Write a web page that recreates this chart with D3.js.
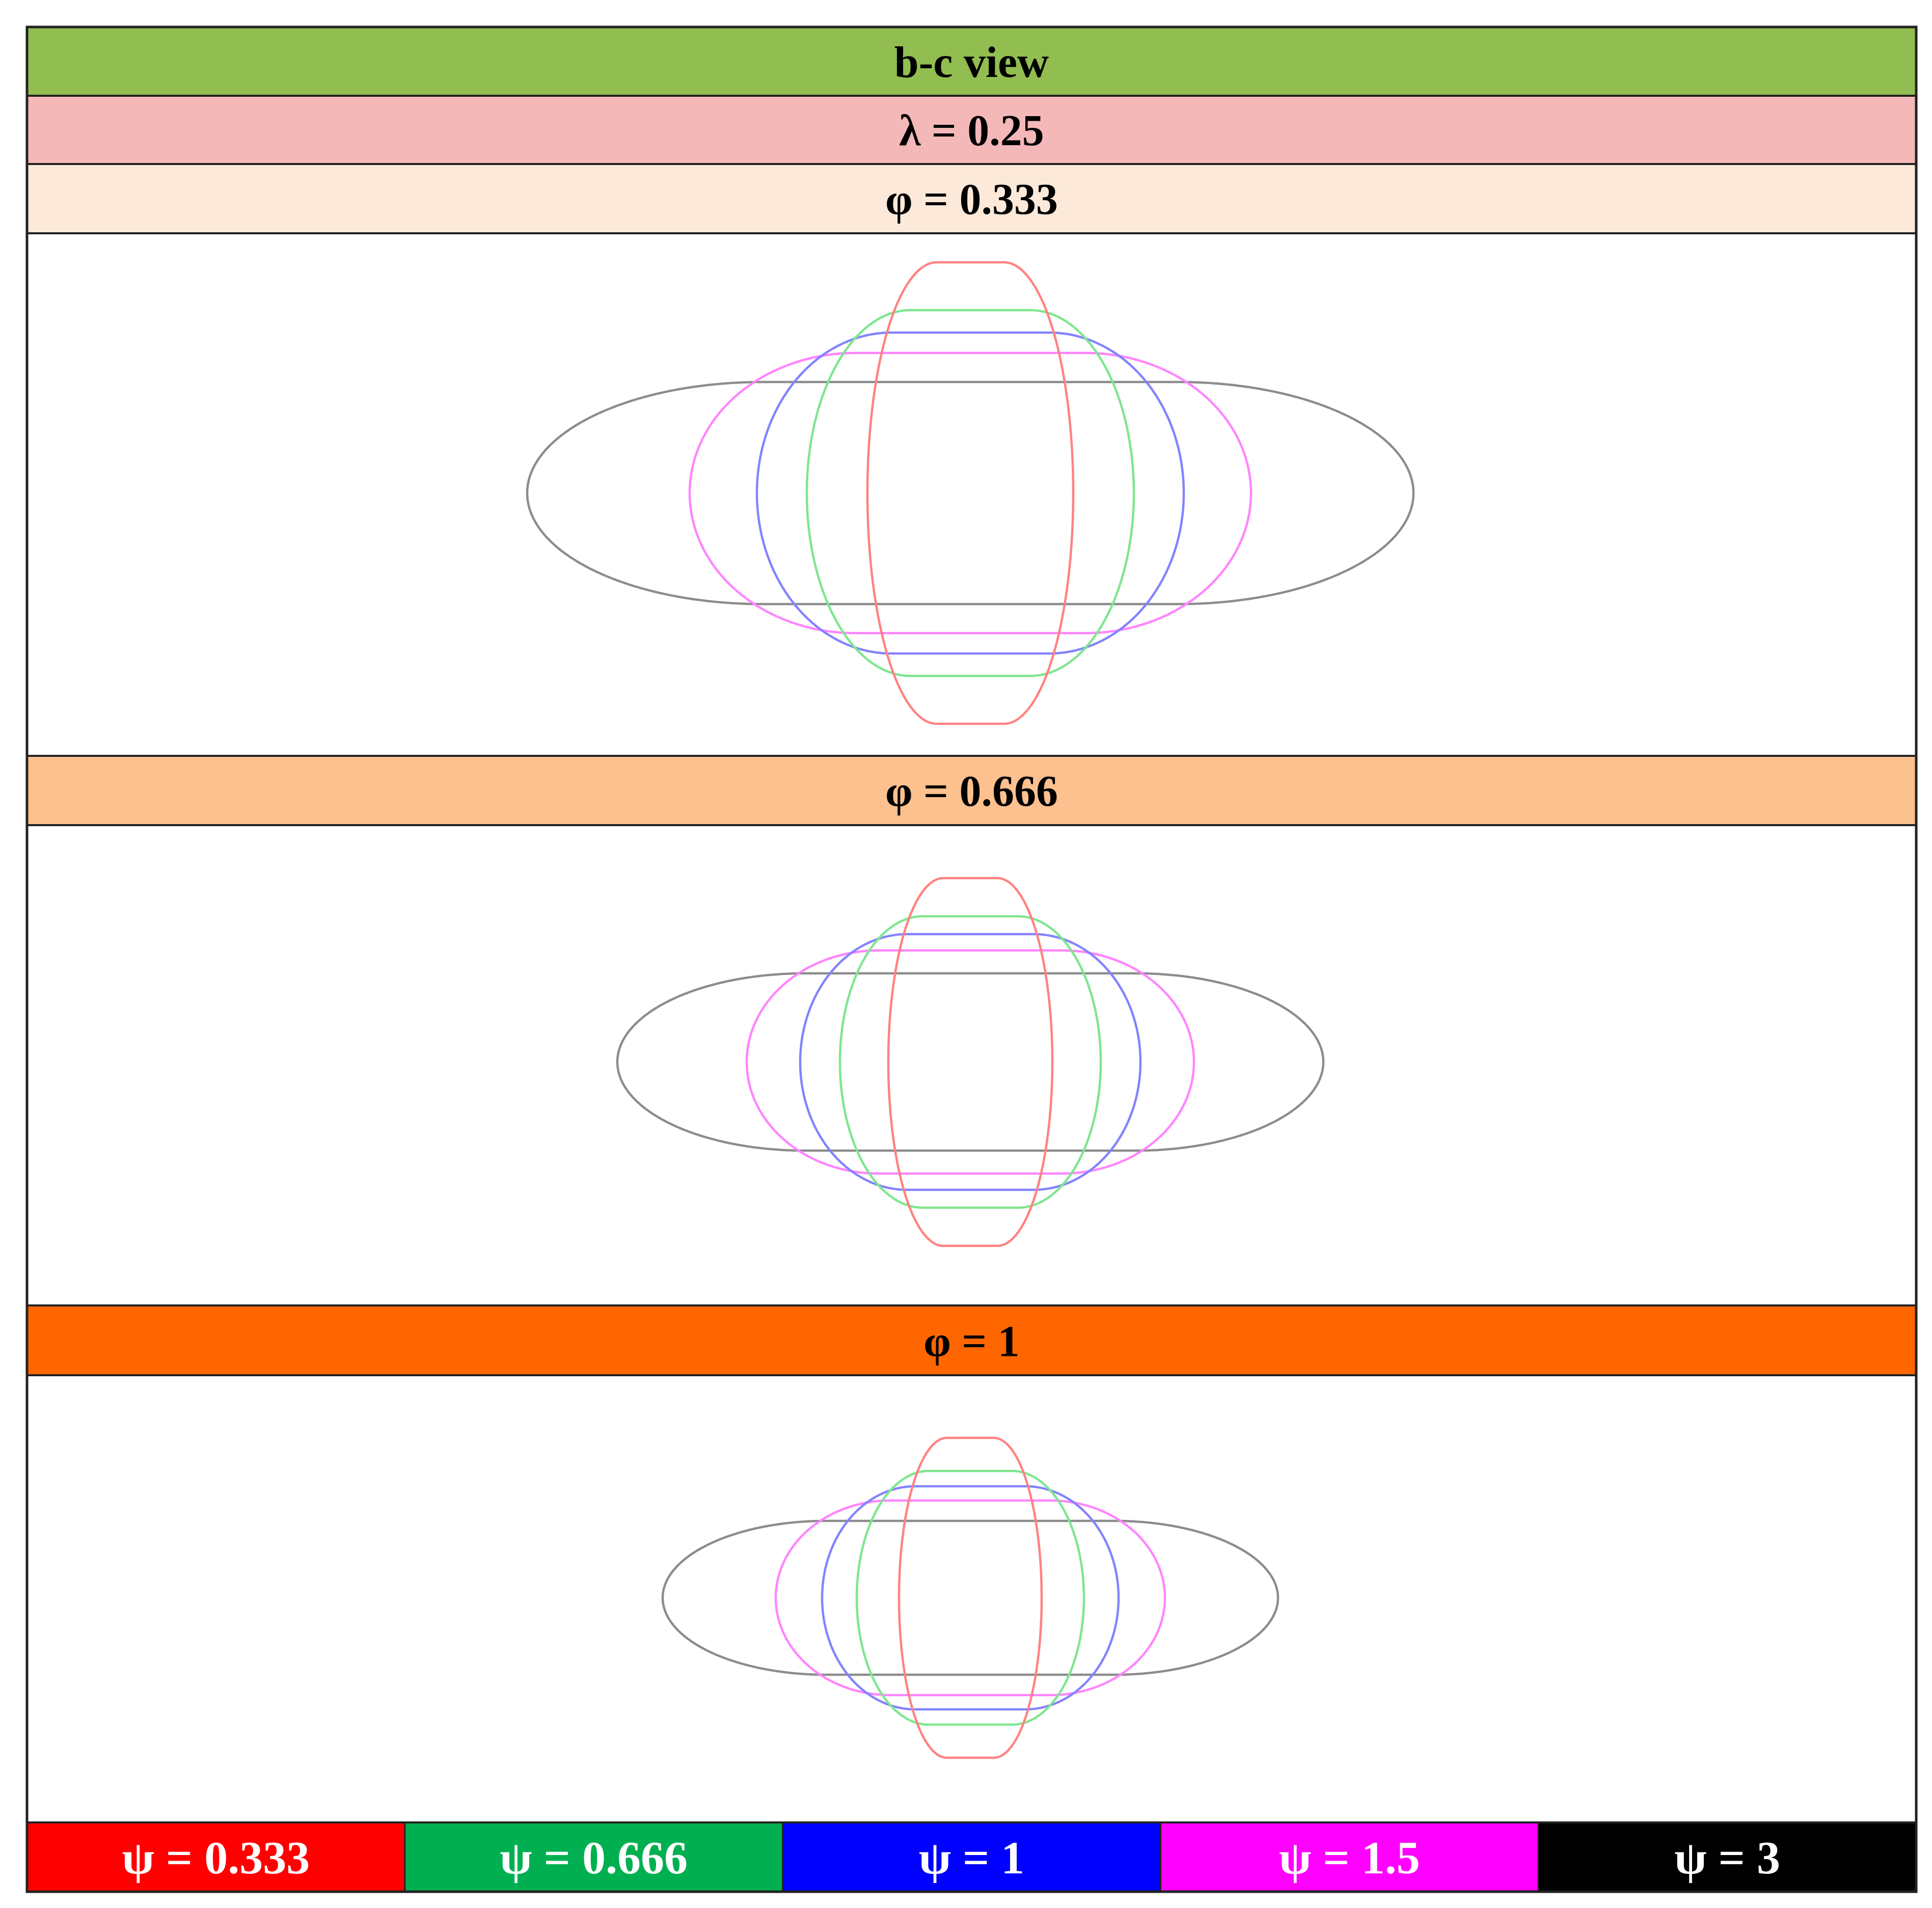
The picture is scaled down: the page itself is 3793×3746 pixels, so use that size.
<!DOCTYPE html>
<html><head><meta charset="utf-8">
<script src="https://cdn.jsdelivr.net/npm/d3@7"></script>
<style>body{margin:0;background:#fff}svg{display:block}</style>
</head><body>
<script>
const psiLabels = ["ψ = 0.333","ψ = 0.666","ψ = 1","ψ = 1.5","ψ = 3"];
const psiFill = ["#ff0000","#00b050","#0000ff","#ff00ff","#000000"];
const psiStroke = ["#ff8282","#7fe68f","#8383ff","#ff85ff","#8c8c8c"];
const phiLabels = ["φ = 0.333","φ = 0.666","φ = 1"];
const phiFill = ["#fde9d9","#fdc08f","#ff6600"];
// per panel, per psi: half-width, half-height, flat half-length (units)
const halfW = [[202,321,419,551,870],[161,256,334,439,693],[140,223,291,382,604]];
const halfH = [[453,359,315,275,218],[361,286,251,219,174],[314,249,219,191,151]];
const flatH = [[66,118,155,226,408],[53,94,124,180,325],[46,82,108,157,283]];

const W=3793,H=3746,L=53,R=3762;
const svg=d3.select("body").append("svg").attr("width",W).attr("height",H);
const font="'Liberation Serif','DejaVu Serif',serif";
function band(y0,y1,fill,text,col){
  svg.append("rect").attr("x",L).attr("y",y0).attr("width",R-L).attr("height",y1-y0).attr("fill",fill);
  svg.append("text").attr("x",(L+R)/2).attr("y",(y0+y1)/2).attr("dy","0.35em").attr("text-anchor","middle")
    .attr("font-family",font).attr("font-weight","bold").attr("font-size",86).attr("fill",col||"#000").text(text);
}
band(53,188,"#92bd50","b-c view");
band(188,322,"#f4b8b8","λ = 0.25");
const bands=[[322,458],[1484,1620],[2563,2700]];
const panels=[[458,1484,968],[1620,2563,2085],[2700,3578,3137]];
bands.forEach((b,i)=>band(b[0],b[1],phiFill[i],phiLabels[i]));
// legend
const lx=d3.scaleBand().domain(psiLabels).range([L,R]).paddingInner(0);
psiLabels.forEach((t,i)=>{
  svg.append("rect").attr("x",lx(t)).attr("y",3578).attr("width",lx.bandwidth()).attr("height",3714-3578).attr("fill",psiFill[i]);
  svg.append("text").attr("x",lx(t)+lx.bandwidth()/2).attr("y",3646).attr("dy","0.35em").attr("text-anchor","middle")
    .attr("font-family",font).attr("font-weight","bold").attr("font-size",92).attr("fill","#fff").text(t);
});
// shapes
const line=d3.line().curve(d3.curveLinearClosed);
panels.forEach((p,pi)=>{
  const cx=1905, cy=p[2];
  const x=d3.scaleLinear().domain([-1,1]).range([cx-1,cx+1]);
  const y=d3.scaleLinear().domain([-1,1]).range([cy+1,cy-1]);
  [4,3,2,1,0].forEach(k=>{
    const a=halfW[pi][k], b=halfH[pi][k], f=flatH[pi][k], e=a-f;
    const pts=[];
    for(let i=0;i<=720;i++){
      const t=i/720*2*Math.PI, c=Math.cos(t);
      const px=e*c+(c>=0?f:-f);
      pts.push([x(px),y(b*Math.sin(t))]);
    }
    svg.append("path").attr("d",line(pts)).attr("fill","none").attr("stroke",psiStroke[k]).attr("stroke-width",4.5);
  });
});
// lines
[188,322,458,1484,1620,2563,2700,3578].forEach(yy=>svg.append("line").attr("x1",L).attr("x2",R).attr("y1",yy).attr("y2",yy).attr("stroke","#222").attr("stroke-width",4));
lx.domain().slice(1).forEach(t=>svg.append("line").attr("x1",lx(t)).attr("x2",lx(t)).attr("y1",3578).attr("y2",3714).attr("stroke","#222").attr("stroke-width",3));
svg.append("rect").attr("x",L).attr("y",53).attr("width",R-L).attr("height",3714-53).attr("fill","none").attr("stroke","#222").attr("stroke-width",5);
</script></body></html>
